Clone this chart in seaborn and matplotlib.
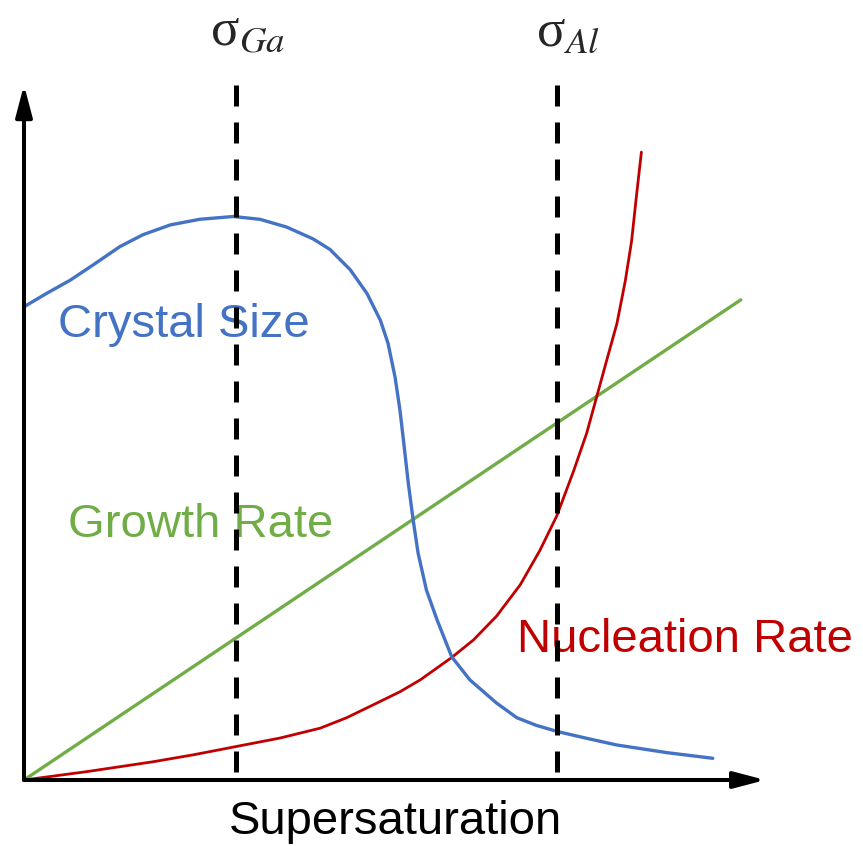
"""plot.py — schematic: crystal size / growth rate / nucleation rate vs supersaturation."""

import numpy as np
import pandas as pd
import matplotlib
matplotlib.use("Agg")
import matplotlib.pyplot as plt
import seaborn as sns

# Curve values (x: supersaturation, y: arbitrary units)
size_x = [0.0, 3.2, 6.6, 9.9, 13.7, 17.0, 20.9, 25.1, 29.9, 33.7, 37.5, 41.3,
          43.7, 46.6, 49.0, 50.9, 52.0, 53.0, 53.7, 54.2, 54.9, 55.6, 56.3,
          57.5, 59.0, 61.1, 63.7, 67.5, 70.4, 73.2, 76.3, 80.4, 84.7, 91.9, 98.4]
size_y = [67.6, 69.5, 71.4, 73.6, 76.2, 77.9, 79.3, 80.1, 80.5, 80.1, 79.0, 77.3,
          75.8, 72.9, 69.5, 65.7, 62.4, 57.6, 52.9, 48.6, 42.4, 37.1, 32.4,
          27.1, 22.9, 17.6, 14.3, 11.0, 8.9, 7.8, 6.9, 5.95, 5.0, 3.9, 3.1]

nuc_x = [0.0, 9.0, 13.7, 18.4, 24.2, 30.4, 36.6, 42.3, 46.1, 49.4, 53.7, 56.6,
         61.1, 64.2, 67.5, 70.9, 73.7, 76.1, 78.5, 80.4, 81.8, 83.2, 84.7,
         85.9, 86.8, 87.5, 88.2]
nuc_y = [0.0, 1.2, 1.9, 2.6, 3.6, 4.8, 6.0, 7.4, 8.9, 10.5, 12.6, 14.3,
         17.5, 20.0, 23.4, 27.9, 32.8, 37.7, 44.1, 49.6, 54.7, 59.8, 65.2,
         71.3, 77.0, 83.5, 89.7]

growth_x = [0.0, 102.4]
growth_y = [0.0, 68.6]

sigma_names = ["Ga", "Al"]
sigma_x = [30.3, 76.1]
y_top = 99.3
x_end = 105.9

BLUE = "#4472C4"
RED = "#C00000"
GREEN = "#70AD47"

sns.set_theme(style="white")
plt.rcParams["font.family"] = ["Liberation Sans", "DejaVu Sans"]
plt.rcParams["mathtext.fontset"] = "stix"

fig = plt.figure(figsize=(8.63, 8.46), dpi=100)
ax = fig.add_axes([0, 0, 1, 1])
ax.set_xlim(-24 / 7, 839 / 7)
ax.set_ylim(-66 / 7, 780 / 7)
ax.axis("off")

# labels first so the dashed lines sit on top of them
ax.text(4.9, 65.0, "Crystal Size", color=BLUE, fontsize=34, ha="left", va="center", zorder=1)
ax.text(6.3, 36.4, "Growth Rate", color=GREEN, fontsize=34, ha="left", va="center", zorder=1)
ax.text(70.4, 20.0, "Nucleation Rate", color=RED, fontsize=34, ha="left", va="center", zorder=1)
ax.text(53.1, -6.0, "Supersaturation", color="black", fontsize=34, ha="center", va="center")

df_size = pd.DataFrame({"x": size_x, "y": size_y})
df_nuc = pd.DataFrame({"x": nuc_x, "y": nuc_y})
df_grow = pd.DataFrame({"x": growth_x, "y": growth_y})

sns.lineplot(data=df_grow, x="x", y="y", color=GREEN, lw=2.4, estimator=None, ax=ax, zorder=2)
sns.lineplot(data=df_nuc, x="x", y="y", color=RED, lw=2.0, estimator=None, ax=ax, zorder=2)
sns.lineplot(data=df_size, x="x", y="y", color=BLUE, lw=2.4, estimator=None, ax=ax, zorder=2)
for ln in ax.lines:
    ln.set_solid_joinstyle("round")

# sigma markers
for name, xv in zip(sigma_names, sigma_x):
    ax.plot([xv, xv], [y_top, 0], color="black", lw=3.6, dashes=(4.2, 3.2), zorder=3)
    ax.text(xv + 1.6, 106.8, "σ" + r"$_{" + name + "}$", fontsize=38,
            family=["Liberation Serif", "DejaVu Serif"], ha="center", va="center")

# axes with arrow heads
arrow = dict(arrowstyle="-|>,head_length=0.95,head_width=0.25", color="black", lw=2.9,
             mutation_scale=20, shrinkA=0, shrinkB=0)
ax.annotate("", xy=(x_end, 0), xytext=(0, 0), arrowprops=arrow, zorder=4)
ax.annotate("", xy=(0, y_top), xytext=(0, 0), arrowprops=arrow, zorder=4)

fig.savefig("out.png", dpi=100)
